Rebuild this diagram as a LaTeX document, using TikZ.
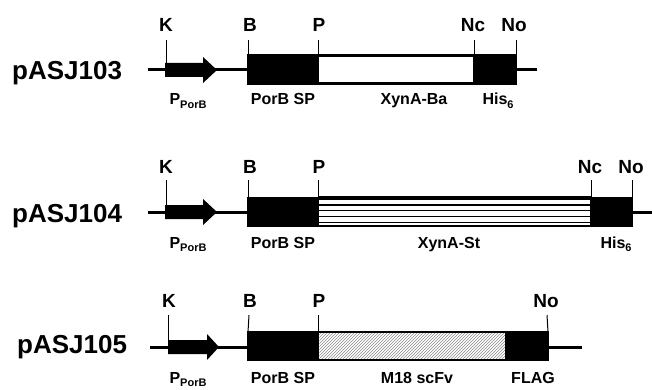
\documentclass[tikz,border=0pt]{standalone}
\usepackage{fontspec}
\setmainfont{Liberation Sans}
\usetikzlibrary{patterns}
\begin{document}
\begin{tikzpicture}[x=1pt,y=-1pt,
  dna/.style={line width=3pt},
  seg/.style={draw=black, line width=2.5pt, rectangle, inner sep=0pt, outer sep=0pt, anchor=west, minimum height=28pt},
  blk/.style={seg, fill=black},
  wht/.style={seg, fill=white},
  tickline/.style={line width=1pt},
  stripe/.style={line width=1.1pt},
  site/.style={font=\bfseries\fontsize{19}{19}\selectfont, anchor=base, inner sep=0pt},
  part/.style={font=\bfseries\fontsize{16}{16}\selectfont, anchor=base, inner sep=0pt},
  cname/.style={font=\bfseries\fontsize{26}{26}\selectfont, anchor=base west, inner sep=0pt},
  prom/.style={fill=black}
]
\newcommand\subsc[1]{\raisebox{-3.5pt}{\fontsize{11}{11}\selectfont #1}}
\useasboundingbox (0,0) rectangle (652,390);

% ---------- pASJ103 ----------
\node[cname] (n1) at (12,80) {pASJ103};
\coordinate (l1a) at (148,70); \coordinate (l1b) at (537,70);
\draw[dna] (l1a) -- (l1b);
\fill[prom] (165,63) -- (203,63) -- (203,57) -- (217,70) -- (203,83) -- (203,77) -- (165,77) -- cycle;
\node[blk, minimum width=70pt] (sp1) at (248,69.5) {};
\node[wht, minimum width=156pt] (xb1) at (318,69.5) {};
\node[blk, minimum width=42pt] (his1) at (474,69.5) {};
\coordinate (k1t) at (166,40); \coordinate (k1b) at (166,70);
\coordinate (b1t) at (248,40); \coordinate (p1t) at (318,40);
\coordinate (nc1t) at (474,40); \coordinate (no1t) at (516,40);
\draw[tickline] (k1t) -- (k1b);
\draw[tickline] (b1t) -- (sp1.north west);
\draw[tickline] (p1t) -- (sp1.north east);
\draw[tickline] (nc1t) -- (his1.north west);
\draw[tickline] (no1t) -- (his1.north east);
\node[site] (K1) at (166,32) {K};
\node[site] (B1) at (250,32) {B};
\node[site] (P1) at (319,32) {P};
\node[site] (Nc1) at (473,32) {Nc};
\node[site] (No1) at (514,32) {No};
\node[part] (pp1) at (188,105) {P\subsc{PorB}};
\node[part] (sl1) at (283,105) {PorB SP};
\node[part] (xl1) at (414,105) {XynA-Ba};
\node[part] (hl1) at (498,105) {His\subsc{6}};

% ---------- pASJ104 ----------
\node[cname] (n2) at (12,222) {pASJ104};
\coordinate (l2a) at (148,212); \coordinate (l2b) at (652,212);
\draw[dna] (l2a) -- (l2b);
\fill[prom] (165,205) -- (203,205) -- (203,199) -- (217,212) -- (203,225) -- (203,219) -- (165,219) -- cycle;
\node[blk, minimum width=70pt] (sp2) at (248,212) {};
\node[wht, minimum width=273pt] (xs2) at (318,212) {};
\node[blk, minimum width=41pt] (his2) at (591,212) {};
\draw[stripe] (318,205) -- (591,205);
\draw[stripe] (318,210.8) -- (591,210.8);
\draw[stripe] (318,216.6) -- (591,216.6);
\draw[stripe] (318,222.4) -- (591,222.4);
\draw[line width=3.5pt] (xs2.north west) -- (xs2.north east);
\coordinate (k2t) at (166,180); \coordinate (k2b) at (166,212);
\coordinate (b2t) at (248,180); \coordinate (p2t) at (318,180);
\coordinate (nc2t) at (591,180); \coordinate (no2t) at (632,180);
\draw[tickline] (k2t) -- (k2b);
\draw[tickline] (b2t) -- (sp2.north west);
\draw[tickline] (p2t) -- (sp2.north east);
\draw[tickline] (nc2t) -- (his2.north west);
\draw[tickline] (no2t) -- (his2.north east);
\node[site] (K2) at (166,173) {K};
\node[site] (B2) at (250,173) {B};
\node[site] (P2) at (319,173) {P};
\node[site] (Nc2) at (590,173) {Nc};
\node[site] (No2) at (631,173) {No};
\node[part] (pp2) at (188,248) {P\subsc{PorB}};
\node[part] (sl2) at (283,248) {PorB SP};
\node[part] (xl2) at (449,248) {XynA-St};
\node[part] (hl2) at (616,248) {His\subsc{6}};

% ---------- pASJ105 ----------
\node[cname] (n3) at (17,353) {pASJ105};
\coordinate (l3a) at (150,347); \coordinate (l3b) at (582,347);
\draw[dna] (l3a) -- (l3b);
\fill[prom] (168,340) -- (207,340) -- (207,334) -- (219,347) -- (207,360) -- (207,354) -- (168,354) -- cycle;
\node[blk, minimum width=70pt] (sp3) at (248,346) {};
\node[seg, fill=white, minimum width=188pt] (sc3) at (318,346) {};
\fill[pattern=north east lines, pattern color=black!45] ([xshift=1.25pt,yshift=-1.25pt]sc3.north west) rectangle ([xshift=-1.25pt,yshift=1.25pt]sc3.south east);
\node[blk, minimum width=42pt] (fl3) at (506,346) {};
\coordinate (k3t) at (168,315); \coordinate (k3b) at (168,347);
\coordinate (b3t) at (249,315); \coordinate (p3t) at (318,315);
\coordinate (no3t) at (547,315);
\draw[tickline] (k3t) -- (k3b);
\draw[tickline] (b3t) -- (sp3.north west);
\draw[tickline] (p3t) -- (sp3.north east);
\draw[tickline] (no3t) -- (fl3.north east);
\node[site] (K3) at (169,307) {K};
\node[site] (B3) at (250,307) {B};
\node[site] (P3) at (319,307) {P};
\node[site] (No3) at (546,307) {No};
\node[part] (pp3) at (188,383) {P\subsc{PorB}};
\node[part] (sl3) at (283,383) {PorB SP};
\node[part] (xl3) at (417,383) {M18 scFv};
\node[part] (hl3) at (533,383) {FLAG};
\end{tikzpicture}
\end{document}
